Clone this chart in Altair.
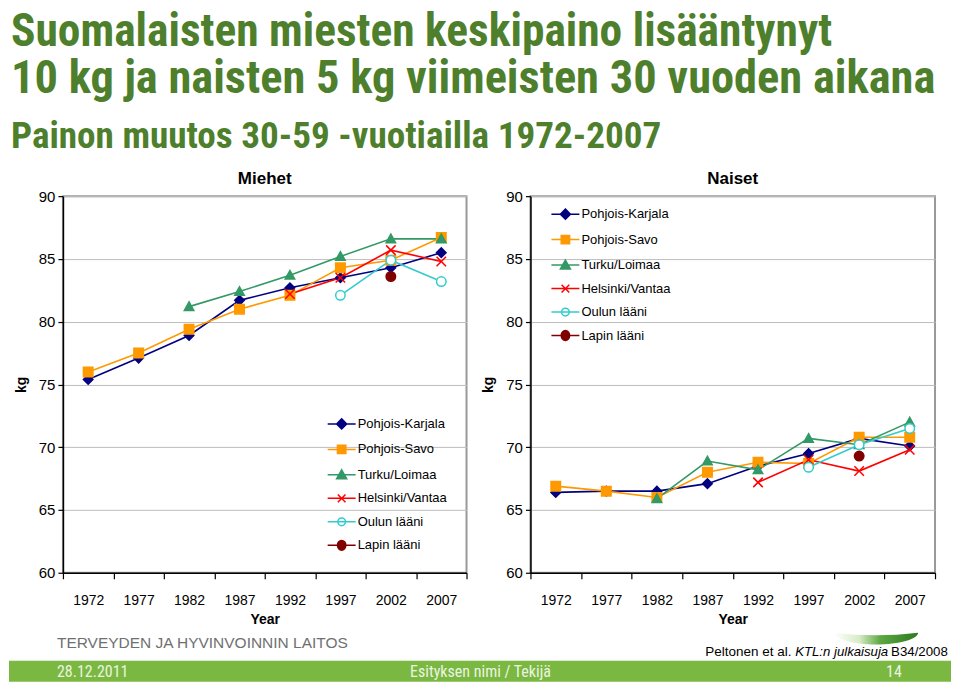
import altair as alt
import pandas as pd

# ---------------- data ----------------
YEARS = ["1972", "1977", "1982", "1987", "1992", "1997", "2002", "2007"]
SERIES = ["Pohjois-Karjala", "Pohjois-Savo", "Turku/Loimaa",
          "Helsinki/Vantaa", "Oulun lääni", "Lapin lääni"]

MEN_POHJOIS_KARJALA = [75.4, 77.1, 78.9, 81.7, 82.7, 83.5, 84.3, 85.5]
MEN_POHJOIS_SAVO = [76.0, 77.5, 79.4, 81.0, 82.1, 84.3, 84.9, 86.7]
MEN_TURKU_LOIMAA = [None, None, 81.2, 82.4, 83.7, 85.2, 86.6, 86.6]
MEN_HELSINKI_VANTAA = [None, None, None, None, 82.2, 83.5, 85.7, 84.8]
MEN_OULUN_LAANI = [None, None, None, None, None, 82.1, 84.9, 83.2]
MEN_LAPIN_LAANI = [None, None, None, None, None, None, 83.6, None]

WOMEN_POHJOIS_KARJALA = [66.4, 66.5, 66.5, 67.1, 68.5, 69.5, 70.7, 70.1]
WOMEN_POHJOIS_SAVO = [66.9, 66.5, 66.0, 68.0, 68.8, 68.7, 70.8, 70.8]
WOMEN_TURKU_LOIMAA = [None, None, 65.9, 68.9, 68.2, 70.7, 70.2, 72.0]
WOMEN_HELSINKI_VANTAA = [None, None, None, None, 67.2, 69.0, 68.1, 69.8]
WOMEN_OULUN_LAANI = [None, None, None, None, None, 68.4, 70.2, 71.5]
WOMEN_LAPIN_LAANI = [None, None, None, None, None, None, 69.3, None]

Y_TICKS = [60, 65, 70, 75, 80, 85, 90]

TITLE_LINES = ["Suomalaisten miesten keskipaino lisääntynyt",
               "10 kg ja naisten 5 kg viimeisten 30 vuoden aikana"]
SUBTITLE = "Painon muutos 30-59 -vuotiailla  1972-2007"
PANEL_TITLES = ["Miehet", "Naiset"]
ORG = "TERVEYDEN JA HYVINVOINNIN LAITOS"
SOURCE_PARTS = ["Peltonen et al.", "KTL:n julkaisuja", "B34/2008"]
FOOTER_DATE = "28.12.2011"
FOOTER_MID = "Esityksen nimi / Tekijä"
FOOTER_PAGE = "14"

# ---------------- styles ----------------
LINE_COLORS = ["#000080", "#FF9900", "#339966", "#FF0000", "#33CCCC", "#800000"]
MARKER_FILLS = ["#000080", "#FF9900", "#339966", "#FF0000", "#FFFFFF", "#800000"]
PLOT_SHAPES = ["diamond", "square", "M0,-1L1,0.8L-1,0.8Z",
               "M-1,-1L1,1M-1,1L1,-1", "circle", "circle"]
LEGEND_SHAPES = [
    "M-2,0H2M0,-0.72L0.72,0L0,0.72L-0.72,0Z",
    "M-2,0H2M-0.6,-0.6H0.6V0.6H-0.6Z",
    "M-2,0H2M0,-0.72L0.72,0.56H-0.72Z",
    "M-2,0H2M-0.55,-0.55L0.55,0.55M-0.55,0.55L0.55,-0.55",
    "M-2,0H2M0.55,0A0.55,0.55,0,1,1,-0.55,0A0.55,0.55,0,1,1,0.55,0Z",
    "M-2,0H2M0.6,0A0.6,0.7,0,1,1,-0.6,0A0.6,0.7,0,1,1,0.6,0Z",
]
FONT = "Liberation Sans, Arial, sans-serif"
NARROW = "Roboto Condensed, Liberation Sans Narrow, Arial Narrow, Liberation Sans, sans-serif"
GREEN = "#4E7F2C"
BAR_GREEN = "#7BB841"
BAR_TEXT = "#EAF4E0"


def table(series_values):
    rows = []
    for name, vals in zip(SERIES, series_values):
        for yr, v in zip(YEARS, vals):
            if v is not None:
                rows.append({"year": yr, "series": name, "kg": v})
    return pd.DataFrame(rows)


men = table([MEN_POHJOIS_KARJALA, MEN_POHJOIS_SAVO, MEN_TURKU_LOIMAA,
             MEN_HELSINKI_VANTAA, MEN_OULUN_LAANI, MEN_LAPIN_LAANI])
women = table([WOMEN_POHJOIS_KARJALA, WOMEN_POHJOIS_SAVO, WOMEN_TURKU_LOIMAA,
               WOMEN_HELSINKI_VANTAA, WOMEN_OULUN_LAANI, WOMEN_LAPIN_LAANI])

PLOT_H = 377


def panel(df, title, lx, ly, width):
    base = alt.Chart(df)
    x = alt.X("year:O", sort=YEARS, bandPosition=0.5,
              scale=alt.Scale(type="band", domain=YEARS, paddingInner=0, paddingOuter=0),
              axis=alt.Axis(title="Year", tickBand="extent", labelAngle=0,
                            labelFont=FONT, labelFontSize=14, labelColor="black",
                            labelPadding=15, tickSize=6, tickColor="black", tickWidth=1.2,
                            domainColor="black", domainWidth=1.5, grid=False,
                            titleFont=FONT, titleFontSize=14, titleFontWeight="bold",
                            titleColor="black", titlePadding=5))
    y = alt.Y("kg:Q",
              scale=alt.Scale(domain=[60, 90], nice=False, zero=False),
              axis=alt.Axis(title="kg", values=Y_TICKS, labelFont=FONT, labelFontSize=15,
                            labelColor="black", labelPadding=3, tickSize=5,
                            tickColor="black", tickWidth=1.2, domainColor="black",
                            domainWidth=1.5, grid=True, gridColor="#BDBDBD", gridWidth=1,
                            titleFont=FONT, titleFontSize=14, titleFontWeight="bold",
                            titleColor="black", titlePadding=10))
    stroke_scale = alt.Scale(domain=SERIES, range=LINE_COLORS)
    fill_scale = alt.Scale(domain=SERIES, range=MARKER_FILLS)

    lines = base.mark_line(strokeWidth=1.6).encode(
        x=x, y=y, stroke=alt.Stroke("series:N", scale=stroke_scale, legend=None))
    points = base.mark_point(filled=True, size=90, strokeWidth=1.5, opacity=1).encode(
        x=x, y=y,
        fill=alt.Fill("series:N", scale=fill_scale, legend=None),
        stroke=alt.Stroke("series:N", scale=stroke_scale, legend=None),
        shape=alt.Shape("series:N", scale=alt.Scale(domain=SERIES, range=PLOT_SHAPES),
                        legend=None))
    leg = alt.Legend(title=None, orient="none", legendX=lx, legendY=ly, padding=0,
                     labelFont=FONT, labelFontSize=13, labelColor="black",
                     symbolSize=196, symbolStrokeWidth=1.5, rowPadding=8.5,
                     labelOffset=8)
    legend_layer = base.transform_filter("false").mark_point(filled=True, opacity=1).encode(
        x=x, y=y,
        fill=alt.Fill("series:N", scale=fill_scale, legend=leg),
        stroke=alt.Stroke("series:N", scale=stroke_scale, legend=leg),
        shape=alt.Shape("series:N", scale=alt.Scale(domain=SERIES, range=LEGEND_SHAPES),
                        legend=leg))
    return alt.layer(lines, points, legend_layer).resolve_scale(
        fill="independent", stroke="independent", shape="independent"
    ).properties(
        width=width, height=PLOT_H,
        title=alt.TitleParams(title, font=FONT, fontSize=17, fontWeight="bold",
                              color="black", frame="group", offset=1))


left = panel(men, PANEL_TITLES[0], 271, 220, 404)
right = panel(women, PANEL_TITLES[1], 27, 10, 405)
plots = alt.hconcat(left, right, spacing=12)

one = alt.Data(values=[{"k": 1}])
NOSTROKE = alt.ViewBackground(stroke="transparent")


def txt(text, x, y, size, font, color, weight="normal", style="normal",
        align="left", baseline="alphabetic"):
    return alt.Chart(one).mark_text(
        font=font, fontSize=size, fontWeight=weight, fontStyle=style, color=color,
        align=align, baseline=baseline, limit=940).encode(
        x=alt.value(x), y=alt.value(y), text=alt.value(text))


# header: origin sits at the left plot's origin (page x = 62)
header = alt.layer(
    txt(TITLE_LINES[0], -52, 1, 45.5, NARROW, GREEN, weight="bold", baseline="top"),
    txt(TITLE_LINES[1], -52, 47, 46.5, NARROW, GREEN, weight="bold", baseline="top"),
    txt(SUBTITLE, -52, 110, 37.2, NARROW, GREEN, weight="bold", baseline="top"),
).properties(width=870, height=159, view=NOSTROKE)

leaf = alt.Chart(one).mark_point(
    filled=True, opacity=1, strokeWidth=0, size=7056,
    shape="M-1,0Q0,0.12,1,0A1,0.28,0,0,1,-1,0Z",
    fill=alt.LinearGradient(gradient="linear", x1=0, x2=1, y1=0, y2=0,
                            stops=[alt.GradientStop(color="#FFFFFF", offset=0),
                                   alt.GradientStop(color="#D6ECC6", offset=0.3),
                                   alt.GradientStop(color="#5DA843", offset=0.55),
                                   alt.GradientStop(color="#2C7A20", offset=1)])
).encode(x=alt.value(814), y=alt.value(4))

footer = alt.layer(
    leaf,
    alt.Chart(one).mark_rect(color=BAR_GREEN).encode(
        x=alt.value(-54), x2=alt.value(889), y=alt.value(32), y2=alt.value(53)),
    txt(ORG, -6, 14, 15.5, FONT, "#707070", baseline="middle"),
    txt(SOURCE_PARTS[0], 643, 27, 13.5, FONT, "black"),
    txt(SOURCE_PARTS[1], 733, 27, 13.2, FONT, "black", style="italic"),
    txt(SOURCE_PARTS[2], 829, 27, 13.3, FONT, "black"),
    txt(FOOTER_DATE, -6, 43, 16, NARROW, BAR_TEXT, baseline="middle"),
    txt(FOOTER_MID, 418, 43, 16, NARROW, BAR_TEXT, align="center", baseline="middle"),
    txt(FOOTER_PAGE, 824, 43, 16, NARROW, BAR_TEXT, baseline="middle"),
).properties(width=870, height=53, view=NOSTROKE)

chart = alt.vconcat(header, plots, footer, spacing=0).properties(
    padding=0
).configure_view(stroke="#999999", strokeWidth=2)

chart.save("out.html", embed_options={"renderer": "svg", "actions": False})
